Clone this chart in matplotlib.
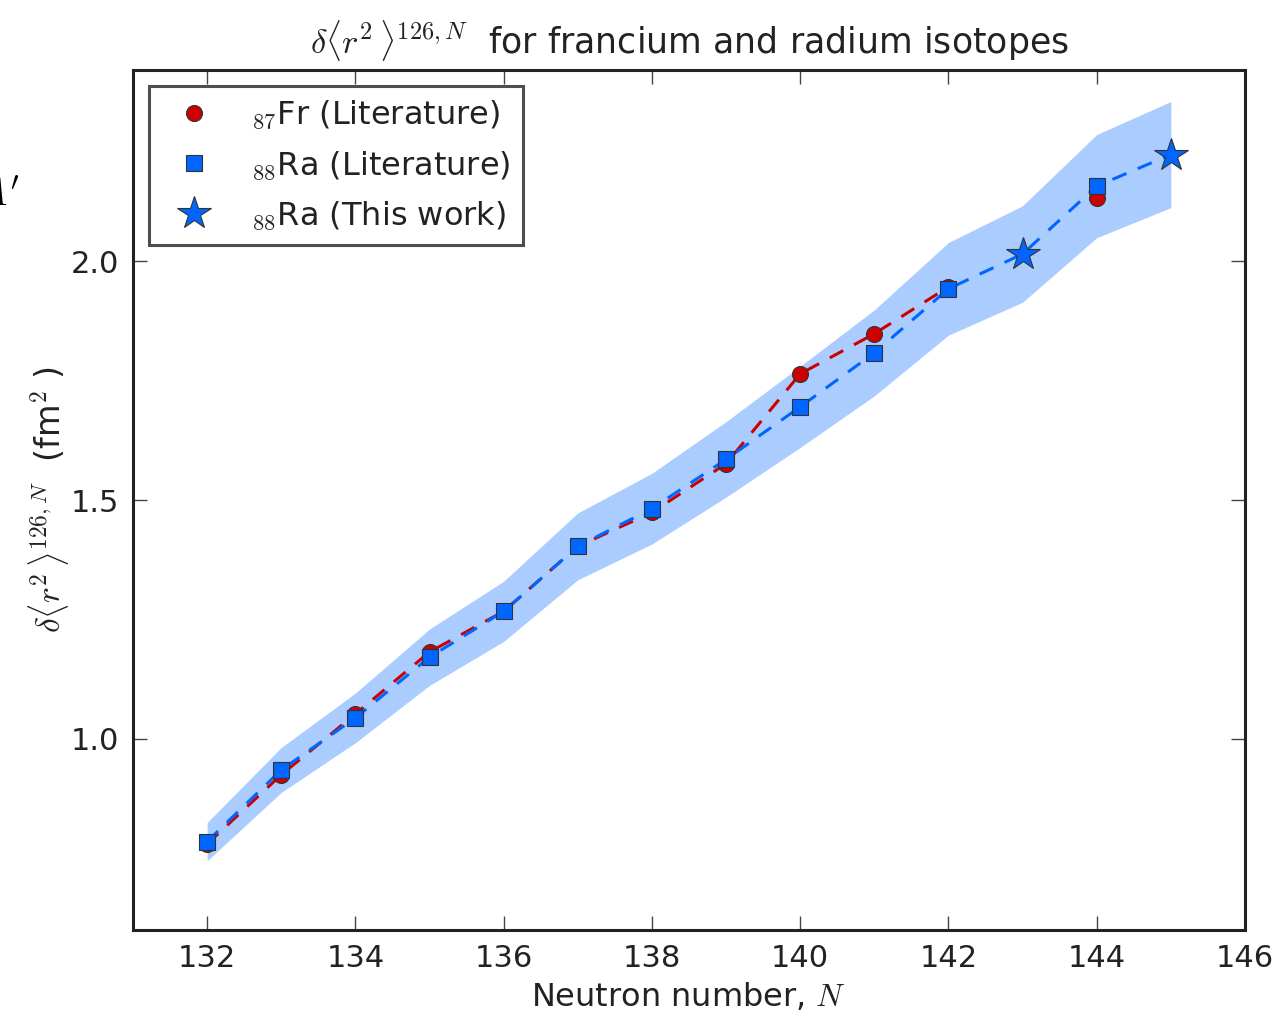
import numpy as np
import matplotlib
matplotlib.use("Agg")
import matplotlib.pyplot as plt

plt.rcParams['mathtext.fontset'] = 'cm'
plt.rcParams['font.family'] = ['DejaVu Sans']

# neutron numbers
n_lit = [132, 133, 134, 135, 136, 137, 138, 139, 140, 141, 142, 143, 144]
n_ra = [132, 133, 134, 135, 136, 137, 138, 139, 140, 141, 142, 143, 144, 145]

# delta <r^2> (fm^2), francium literature (no value at N=143)
fr_lit = [0.780, 0.925, 1.052, 1.182, 1.267, 1.403, 1.474, 1.576, 1.764, 1.848,
          1.946, np.nan, 2.132]

# radium: literature values and the two new points
ra_n_lit = [132, 133, 134, 135, 136, 137, 138, 139, 140, 141, 142, 144]
ra_lit = [0.785, 0.935, 1.044, 1.171, 1.267, 1.403, 1.482, 1.585, 1.695, 1.808,
          1.942, 2.157]
ra_n_new = [143, 145]
ra_new = [2.015, 2.223]

# combined radium curve + its uncertainty band
ra_all = [0.785, 0.935, 1.044, 1.171, 1.267, 1.403, 1.482, 1.585, 1.695, 1.808,
          1.942, 2.015, 2.157, 2.223]
ra_err = [0.040, 0.047, 0.052, 0.059, 0.063, 0.070, 0.074, 0.079, 0.085, 0.090,
          0.097, 0.101, 0.108, 0.111]

red = '#cc0000'
blue = '#0066ff'

fig = plt.figure(figsize=(12.81, 10.13), dpi=100)
ax = fig.add_axes([0.1038, 0.0819, 0.8681, 0.8490])

lo = np.array(ra_all) - np.array(ra_err)
hi = np.array(ra_all) + np.array(ra_err)
ax.fill_between(n_ra, lo, hi, color=blue, alpha=0.33, lw=0, zorder=1)

ax.plot(n_lit, fr_lit, '--', color=red, lw=2.2, dashes=(5, 4), zorder=2)
ax.plot(n_ra, ra_all, '--', color=blue, lw=2.2, dashes=(5, 4), zorder=3)

ax.plot(n_lit, fr_lit, 'o', color=red, ms=11.5, mec='#333333', mew=0.8,
        ls='none', zorder=4, label=r'$_{87}$Fr (Literature)')
ax.plot(ra_n_lit, ra_lit, 's', color=blue, ms=12, mec='#333333', mew=0.8,
        ls='none', zorder=5, label=r'$_{88}$Ra (Literature)')
ax.plot(ra_n_new, ra_new, '*', color=blue, ms=25, mec='#333333', mew=0.8,
        ls='none', zorder=6, label=r'$_{88}$Ra (This work)')

ax.set_xlim(131, 146)
ax.set_ylim(0.6, 2.4)
ax.set_xticks(range(132, 147, 2))
ax.set_yticks([1.0, 1.5, 2.0])
ax.set_yticklabels(['1.0', '1.5', '2.0'])

ax.tick_params(direction='in', length=10, width=1, color='#444444',
               labelsize=22, labelcolor='#222222', pad=10,
               top=True, right=True)
for s in ax.spines.values():
    s.set_linewidth(2.2)
    s.set_color('#222222')

ax.set_xlabel(r'Neutron number, $N$', fontsize=23, color='#222222', labelpad=6)
ax.set_ylabel(r'$\delta\langle r^2\,\rangle^{126,N}$  (fm$^2$ )', fontsize=24,
              color='#222222', labelpad=0)
ax.set_title(r'$\delta\langle r^2\,\rangle^{126,N}$  for francium and radium isotopes',
             fontsize=25, color='#222222', pad=12)

leg = ax.legend(loc='upper left', numpoints=1, fontsize=23, frameon=True,
                fancybox=False, borderaxespad=0.5, handletextpad=0.8,
                handlelength=2.0, labelspacing=0.55, borderpad=0.4)
leg.get_frame().set_linewidth(2.2)
leg.get_frame().set_edgecolor('#222222')
for t in leg.get_texts():
    t.set_color('#222222')

# leftover label from a neighbouring panel
fig.text(0.016, 1 - 195 / 1013, r"$A'$", ha='right', va='center', fontsize=28)

fig.savefig('out.png', dpi=100)
